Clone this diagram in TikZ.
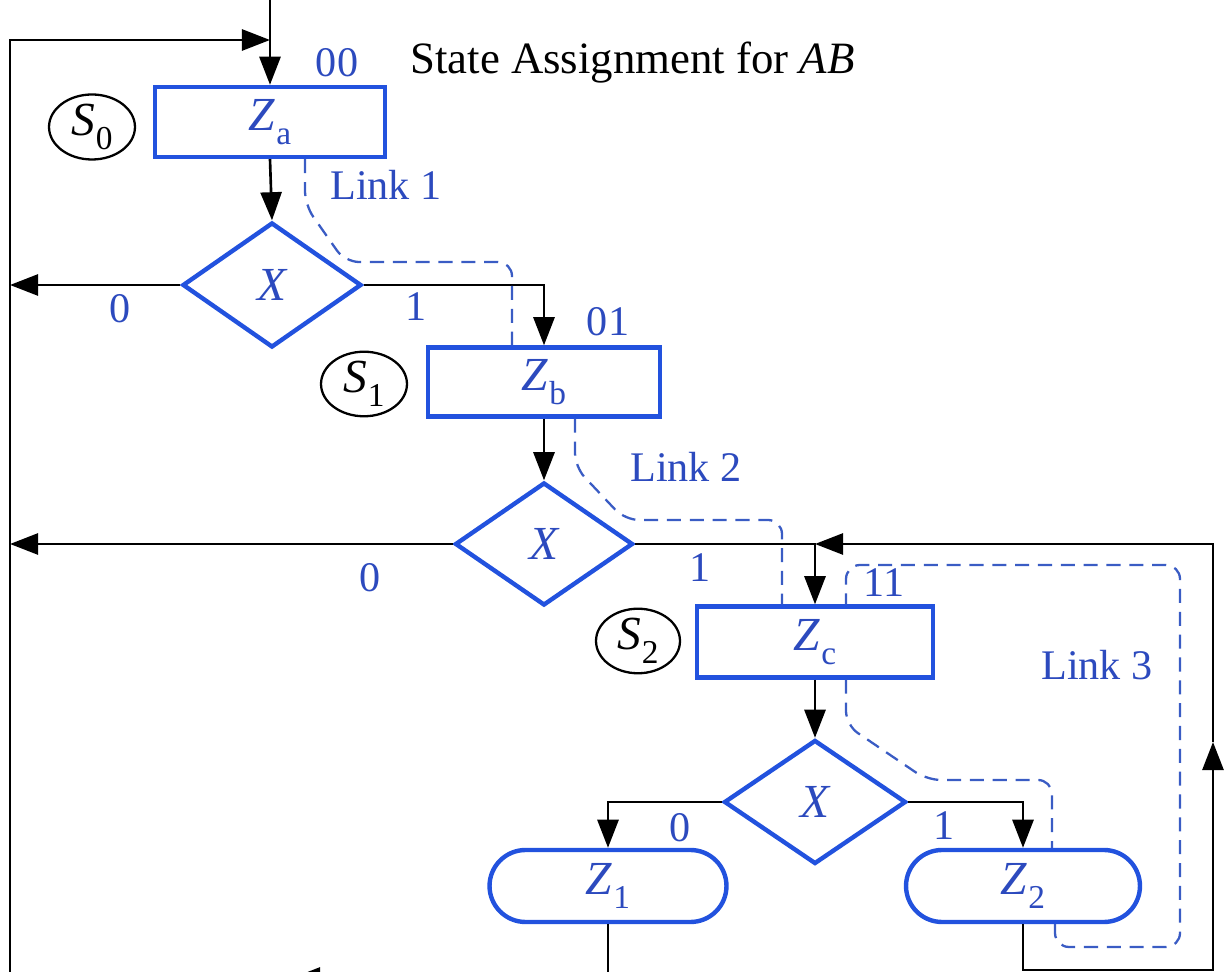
\documentclass[tikz,border=0pt]{standalone}
\usepackage{fontspec}
\setmainfont{Liberation Serif}
\usetikzlibrary{arrows.meta,shapes.geometric,shapes.misc,calc}

\definecolor{shapeblue}{RGB}{34,82,222}
\definecolor{textblue}{RGB}{44,74,190}
\definecolor{linkblue}{RGB}{58,92,196}

% italic letter with an upright subscript
\newcommand\zsym[2]{\textit{#1}\kern0.5pt\raisebox{-0.3em}{\fontsize{19}{19}\selectfont #2}}

\tikzset{
  x=0.02cm, y=-0.02cm,
  flow/.style={draw=black, line width=1.5pt},
  arr/.style={flow, -{Triangle[length=16pt,width=12pt]}},
  statebox/.style={draw=shapeblue, line width=2.5pt, rectangle, inner sep=0pt,
    text=textblue, font=\fontsize{27}{30}\selectfont},
  decision/.style={draw=shapeblue, line width=2.5pt, diamond, inner sep=0pt,
    text=textblue, font=\fontsize{27}{30}\selectfont\itshape},
  outbox/.style={draw=shapeblue, line width=2.5pt, rounded rectangle, inner sep=0pt,
    text=textblue, font=\fontsize{27}{30}\selectfont},
  statetag/.style={draw=black, line width=1.3pt, ellipse, inner sep=0pt,
    font=\fontsize{27}{30}\selectfont},
  lbl/.style={text=textblue, inner sep=0pt, font=\fontsize{24}{27}\selectfont},
  linkpath/.style={draw=linkblue, line width=1.3pt, dash pattern=on 8pt off 5pt,
    rounded corners=0.28cm},
}

\begin{document}
\begin{tikzpicture}
\useasboundingbox (0,0) rectangle (1225,972);
\clip (0,0) rectangle (1225,972);

% state boxes
\node[statebox, minimum width=4.6cm, minimum height=1.4cm] (za) at (270,122) {\zsym{Z}{a}};
\node[statebox, minimum width=4.64cm, minimum height=1.38cm] (zb) at (544,382) {\zsym{Z}{b}};
\node[statebox, minimum width=4.72cm, minimum height=1.42cm] (zc) at (815,642) {\zsym{Z}{c}};

% decision boxes
\node[decision, minimum width=3.58cm, minimum height=2.5cm] (d1) at (272,285) {X};
\node[decision, minimum width=3.56cm, minimum height=2.46cm] (d2) at (544,544) {X};
\node[decision, minimum width=3.64cm, minimum height=2.48cm] (d3) at (815,802) {X};

% conditional outputs
\node[outbox, minimum width=4.74cm, minimum height=1.44cm] (z1) at (608,886) {\zsym{Z}{1}};
\node[outbox, minimum width=4.68cm, minimum height=1.44cm] (z2) at (1023,886) {\zsym{Z}{2}};

% state names
\node[statetag, minimum width=1.72cm, minimum height=1.04cm] (s0) at (92,127) {\zsym{S}{0}};
\node[statetag, minimum width=1.72cm, minimum height=1.2cm] (s1) at (364,384) {\zsym{S}{1}};
\node[statetag, minimum width=1.68cm, minimum height=1.12cm] (s2) at (638,641) {\zsym{S}{2}};

% state codes and title
\node[lbl] (c00) at (337,63) {00};
\node[lbl] (c01) at (608,322) {01};
\node[lbl] (c11) at (884,583) {11};
\node[anchor=west, inner sep=0pt, font=\fontsize{25.5}{28}\selectfont] (title) at (410,63)
  {State Assignment for \textit{AB}};

% branch values
\node[lbl] (b10) at (120,309) {0};
\node[lbl] (b11) at (416,307) {1};
\node[lbl] (b20) at (370,578) {0};
\node[lbl] (b21) at (700,568) {1};
\node[lbl] (b30) at (680,828) {0};
\node[lbl] (b31) at (944,826) {1};

% link labels
\node[lbl] (lk1) at (386,185) {Link 1};
\node[lbl] (lk2) at (686,467) {Link 2};
\node[lbl] (lk3) at (1097,665) {Link 3};

% helper points of the return paths
\coordinate (entry) at (270,0);
\coordinate (j0) at (270,40);
\coordinate (tl) at (10,40);
\coordinate (bl) at (10,980);
\coordinate (ret1) at (10,285);
\coordinate (ret2) at (10,544);
\coordinate (bz1) at (608,978);
\coordinate (btip) at (292,978);
\coordinate (bend) at (10,978);
\coordinate (rb) at (1213,970);
\coordinate (ru) at (1213,742);
\coordinate (rt) at (1213,544);
\coordinate (j2) at (815,544);

% main flow
\draw[arr] (entry) -- (za.north);
\draw[arr] (bl) -- (tl) -- (j0);
\draw[arr] (za.south) -- (d1.north);
\draw[arr] (d1.west) -- (ret1);
\draw[arr] (d1.east) -| (zb.north);
\draw[arr] (zb.south) -- (d2.north);
\draw[arr] (d2.west) -- (ret2);
\draw[arr] (d2.east) -| (zc.north);
\draw[arr] (zc.south) -- (d3.north);
\draw[arr] (d3.west) -| (z1.north);
\draw[arr] (d3.east) -| (z2.north);

% exits from the outputs
\draw[arr] (z1.south) -- (bz1) -- (btip);
\draw[flow] (btip) -- (bend);
\draw[arr] (z2.south) |- (rb) -- (ru);
\draw[arr] (ru) -- (rt) -- (j2);

% links
\path[linkpath] ([xshift=0.7cm]za.south) -- (305,205) -- (345,262) -- (512,262)
  -- ([xshift=-0.64cm]zb.north);
\path[linkpath] ([xshift=0.62cm]zb.south) -- (575,467) -- (625,520) -- (782,520)
  -- ([xshift=-0.66cm]zc.north);
\path[linkpath] ([xshift=0.62cm]zc.south) -- (846,725) -- (927,780) -- (1052,780)
  -- ([xshift=0.58cm]z2.north);
\path[linkpath] ([xshift=0.64cm]z2.south) -- (1055,947) -- (1180,947) -- (1180,565)
  -- (846,565) -- ([xshift=0.62cm]zc.north);
\end{tikzpicture}
\end{document}
